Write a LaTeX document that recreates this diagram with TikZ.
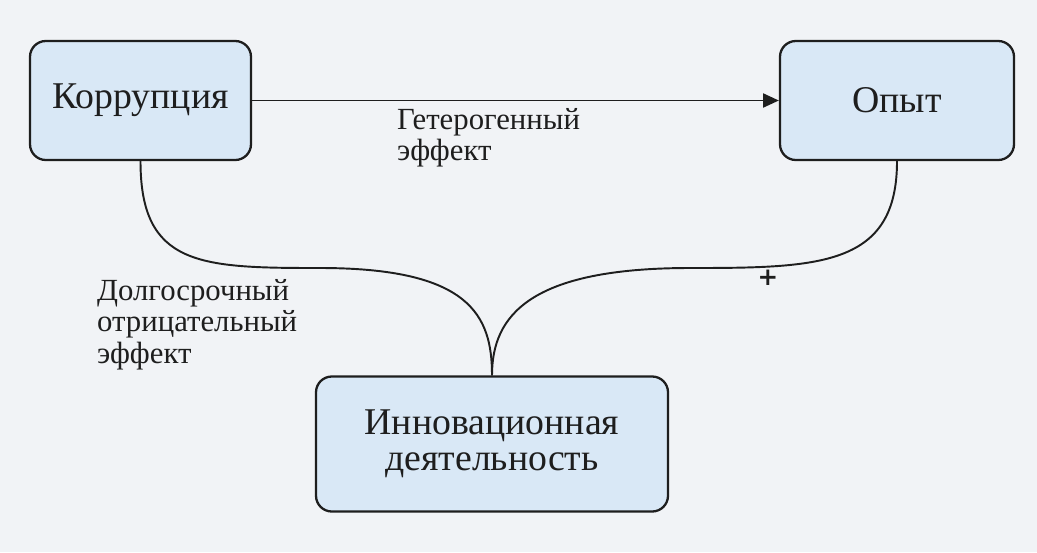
\documentclass[tikz,border=0pt]{standalone}
\usepackage{fontspec}
\setmainfont{Liberation Serif}
\newfontfamily\plusfont{DejaVu Sans}
\usepackage{tikz}
\usetikzlibrary{arrows.meta}

\definecolor{bgcol}{HTML}{F1F3F6}
\definecolor{boxfill}{HTML}{D9E8F6}
\definecolor{linecol}{HTML}{1E1E1E}

\tikzset{
  factor/.style={draw=linecol, line width=1.3pt, fill=boxfill, rounded corners=9pt,
    align=center, font=\fontsize{21.5}{20.5}\selectfont, text=linecol},
  effect/.style={align=left, anchor=north west, font=\fontsize{17.5}{18}\selectfont, text=linecol},
  link/.style={draw=linecol, line width=1.1pt}
}

\begin{document}
\begin{tikzpicture}[x=0.02cm, y=-0.02cm]
            % Background and frame
            \fill[bgcol] (0,0) rectangle (1037,552);
            \useasboundingbox (0,0) rectangle (1037,552);

            % Draw the three boxes
            \node[factor, minimum width=221*0.02cm, minimum height=119*0.02cm] (korr) at (140.5,100.5) {Коррупция};
            \node[factor, minimum width=234*0.02cm, minimum height=119*0.02cm] (opyt) at (897,100.5) {Опыт};
            \node[factor, minimum width=352*0.02cm, minimum height=135*0.02cm] (innov) at (492,444) {Инновационная\\деятельность};

            % Draw the arrow between the top boxes
            \draw[link, -{Triangle[length=9pt, width=8pt]}] (korr.east) -- (opyt.west);

            % Draw the two curves down to the bottom box
            \coordinate (lmid) at (320,268);
            \coordinate (rmid) at (690,268);
            \draw[link] (korr.south) .. controls +(0,105) and +(-120,0) .. (lmid)
                .. controls +(150,0) and +(0,-60) .. (innov.north);
            \draw[link] (opyt.south) .. controls +(0,105) and +(130,0) .. (rmid)
                .. controls +(-160,0) and +(0,-60) .. (innov.north);

            % Add labels
            \node[effect] (hetero) at (391,102) {Гетерогенный\\эффект};
            \node[effect] (longneg) at (91,273) {Долгосрочный\\отрицательный\\эффект};
            \node[text=linecol, font=\plusfont\bfseries\fontsize{14}{16}\selectfont] (plus) at (768,278) {+};
        \end{tikzpicture}
\end{document}
